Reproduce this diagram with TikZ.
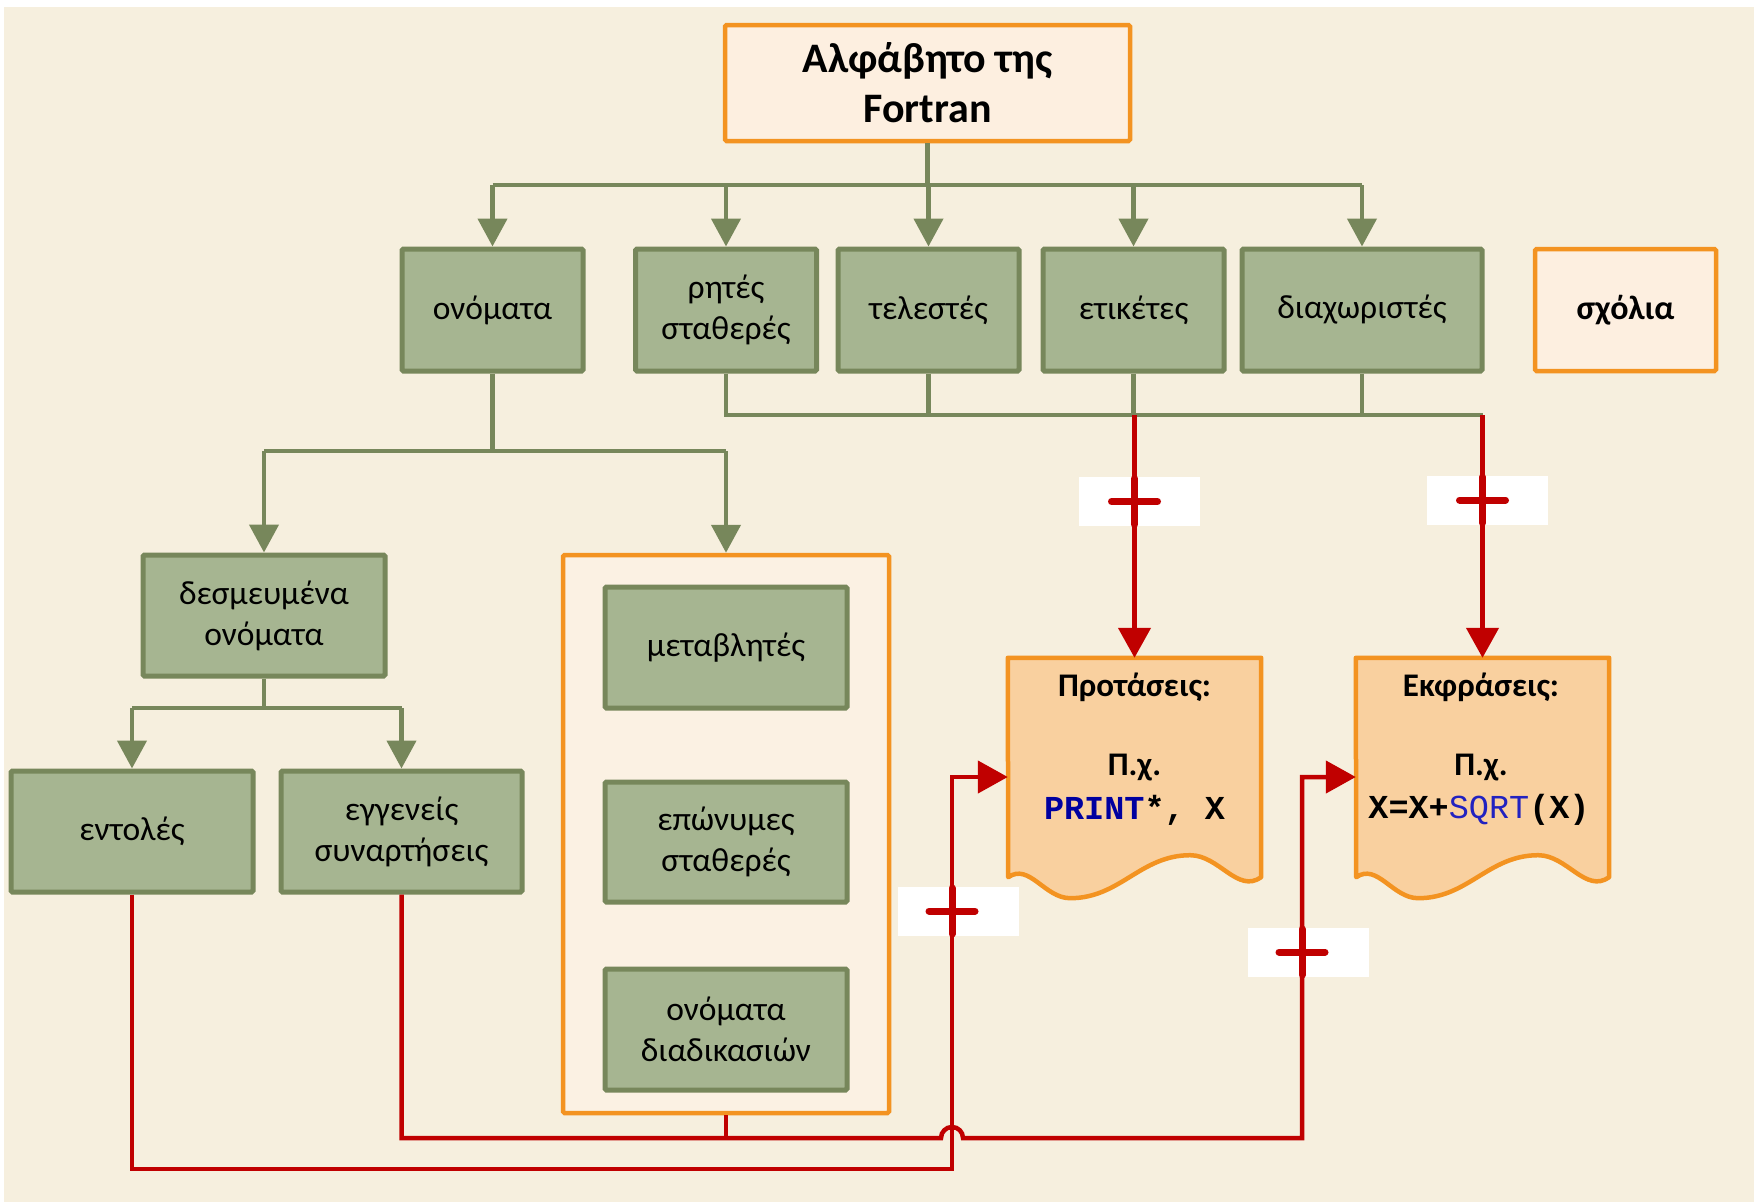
\documentclass[tikz,border=0pt]{standalone}
\usepackage{fontspec}
\setmainfont{Carlito}
\newfontfamily\monof{Liberation Mono}
\usetikzlibrary{arrows.meta}
\definecolor{cBg}{HTML}{F6EFDE}
\definecolor{cGreenFill}{HTML}{A6B591}
\definecolor{cGreenLine}{HTML}{77875B}
\definecolor{cRed}{HTML}{C00000}
\definecolor{cOrange}{HTML}{F39321}
\definecolor{cTitleFill}{HTML}{FDEFE0}
\definecolor{cContFill}{HTML}{FBF1E3}
\definecolor{cDocFill}{HTML}{F9D09F}
\definecolor{cDarkBlue}{HTML}{0000A0}
\definecolor{cBlue}{HTML}{2222C0}
\newcommand\docshape[1]{%
  \draw[docst] (#1.north west) -- (#1.north east) -- (#1.south east)
    to[out=215,in=0] ++(-71,-22) to[out=180,in=0] ++(-120,43)
    to[out=180,in=35] ++(-62,-21) -- cycle;}
\begin{document}
\begin{tikzpicture}[x=1pt,y=-1pt,
  greenbox/.style={draw=cGreenLine, fill=cGreenFill, line width=5pt, minimum width=181pt, minimum height=122pt, align=center, inner sep=0pt, rounded corners=1.5pt, font=\fontsize{33.5}{41}\selectfont},
  orangebox/.style={draw=cOrange, fill=cTitleFill, line width=4.5pt, align=center, inner sep=0pt, rounded corners=1.5pt},
  gwire/.style={draw=cGreenLine, line width=4.5pt},
  gtip/.style={gwire, -{Triangle[length=28pt,width=29pt]}},
  rwire/.style={draw=cRed, line width=4.5pt},
  rtip/.style={rwire, -{Triangle[length=30pt,width=32pt]}},
  plusbox/.style={fill=white, minimum width=121pt, minimum height=49pt, inner sep=0pt},
  crossst/.style={draw=cRed, line width=7pt, line cap=round},
  docst/.style={draw=cOrange, fill=cDocFill, line width=4.5pt, line join=round},
  doctxt/.style={font=\bfseries\fontsize{33}{38}\selectfont, inner sep=0pt},
  codetxt/.style={font=\monof\bfseries\fontsize{33.5}{38}\selectfont, inner sep=0pt},
  pluscross/.pic={\draw[crossst] (-23,0) -- (23,0) (0,-23) -- (0,23);}
]
\useasboundingbox (0,0) rectangle (1754,1202);
\fill[cBg] (4,7) rectangle (1754,1202);

% title
\node[orangebox, minimum width=405pt, minimum height=116pt, font=\bfseries\fontsize{42}{50}\selectfont] (title) at (927.5,83) {Αλφάβητο της\\Fortran};

% first row
\node[greenbox] (onomata) at (492.5,310) {ονόματα};
\node[greenbox] (rites) at (726,310) {ρητές\\σταθερές};
\node[greenbox] (telestes) at (928.5,310) {τελεστές};
\node[greenbox] (etiketes) at (1133.5,310) {ετικέτες};
\node[greenbox, minimum width=240pt] (diax) at (1362,310) {διαχωριστές};
\node[orangebox, minimum width=181pt, minimum height=122pt, font=\bfseries\fontsize{34}{40}\selectfont] (sxolia) at (1625.5,310) {σχόλια};

% second level
\node[greenbox, minimum width=242pt, minimum height=121pt] (desm) at (264,615.5) {δεσμευμένα\\ονόματα};
\node[orangebox, fill=cContFill, minimum width=326pt, minimum height=558pt] (cont) at (726,834) {};
\node[greenbox, minimum width=242pt, minimum height=121pt] (metav) at (726,647.5) {μεταβλητές};
\node[greenbox, minimum width=242pt, minimum height=120pt] (epon) at (726,842) {επώνυμες\\σταθερές};
\node[greenbox, minimum width=242pt, minimum height=121pt] (diad) at (726,1029.5) {ονόματα\\διαδικασιών};
\node[greenbox, minimum width=242pt, minimum height=121pt] (entoles) at (132,831.5) {εντολές};
\node[greenbox, minimum width=241pt, minimum height=121pt] (eggeneis) at (401.5,831.5) {εγγενείς\\συναρτήσεις};

% documents
\node[minimum width=253pt, minimum height=219pt, inner sep=0pt] (prot) at (1134.5,767.5) {};
\node[minimum width=253pt, minimum height=219pt, inner sep=0pt] (expr) at (1482.5,767.5) {};
\docshape{prot}
\docshape{expr}
\node[doctxt] (protT) at (1134.5,687) {Προτάσεις:};
\node[doctxt] (protE) at (1134.5,768) {Π.χ.};
\node[codetxt] (protC) at (1134.5,810) {\textcolor{cDarkBlue}{PRINT}*, X};
\node[doctxt] (exprT) at (1481,687) {Εκφράσεις:};
\node[doctxt] (exprE) at (1481,768) {Π.χ.};
\node[codetxt] (exprC) at (1479,810) {X=X+{\mdseries\textcolor{cBlue}{SQRT}}(X)};

% green connectors, top
\coordinate (busC) at (927.5,185);
\draw[gwire] (title.south) -- (busC);
\draw[gwire] (onomata.north |- busC) -- (diax.north |- busC);
\foreach \n in {onomata,rites,telestes,etiketes,diax}
  \draw[gtip] (\n.north |- busC) -- (\n.north);

% green bottom bus
\coordinate (bb) at (1482.5,415);
\draw[gwire] (rites.south) |- (bb);
\foreach \n in {telestes,etiketes,diax}
  \draw[gwire] (\n.south) -- (\n.south |- bb);

% onomata subtree
\coordinate (ob) at (492.5,451);
\draw[gwire] (onomata.south) -- (ob);
\draw[gwire] (desm.north |- ob) -- (cont.north |- ob);
\draw[gtip] (desm.north |- ob) -- (desm.north);
\draw[gtip] (cont.north |- ob) -- (cont.north);

% desm subtree
\coordinate (db) at (264,708);
\draw[gwire] (desm.south) -- (db);
\draw[gwire] (entoles.north |- db) -- (eggeneis.north |- db);
\draw[gtip] (entoles.north |- db) -- (entoles.north);
\draw[gtip] (eggeneis.north |- db) -- (eggeneis.north);

% red connectors
\draw[rtip] (prot.north |- bb) -- (prot.north);
\draw[rtip] (bb) -- (expr.north);

\coordinate (r1) at (952,1169);
\coordinate (r2) at (1302,1138);
\coordinate (jL) at (941,1138);
\draw[rtip] (entoles.south) |- (r1) |- ([yshift=-9.5pt]prot.west);
\draw[rtip] (eggeneis.south) |- (jL) arc[start angle=180, end angle=360, radius=11] -- (r2) |- ([yshift=-9.5pt]expr.west);
\draw[rwire] (cont.south) -- (cont.south |- r2);

% plus boxes
\node[plusbox] (p1) at (1139.5,501.5) {};
\pic at (prot.north |- p1) {pluscross};
\node[plusbox] (p2) at (1487.5,500) {};
\pic at (bb |- p2) {pluscross};
\node[plusbox] (p3) at (958.5,911) {};
\pic at (r1 |- p3) {pluscross};
\node[plusbox] (p4) at (1308,952) {};
\pic at (r2 |- p4) {pluscross};
\end{tikzpicture}
\end{document}
